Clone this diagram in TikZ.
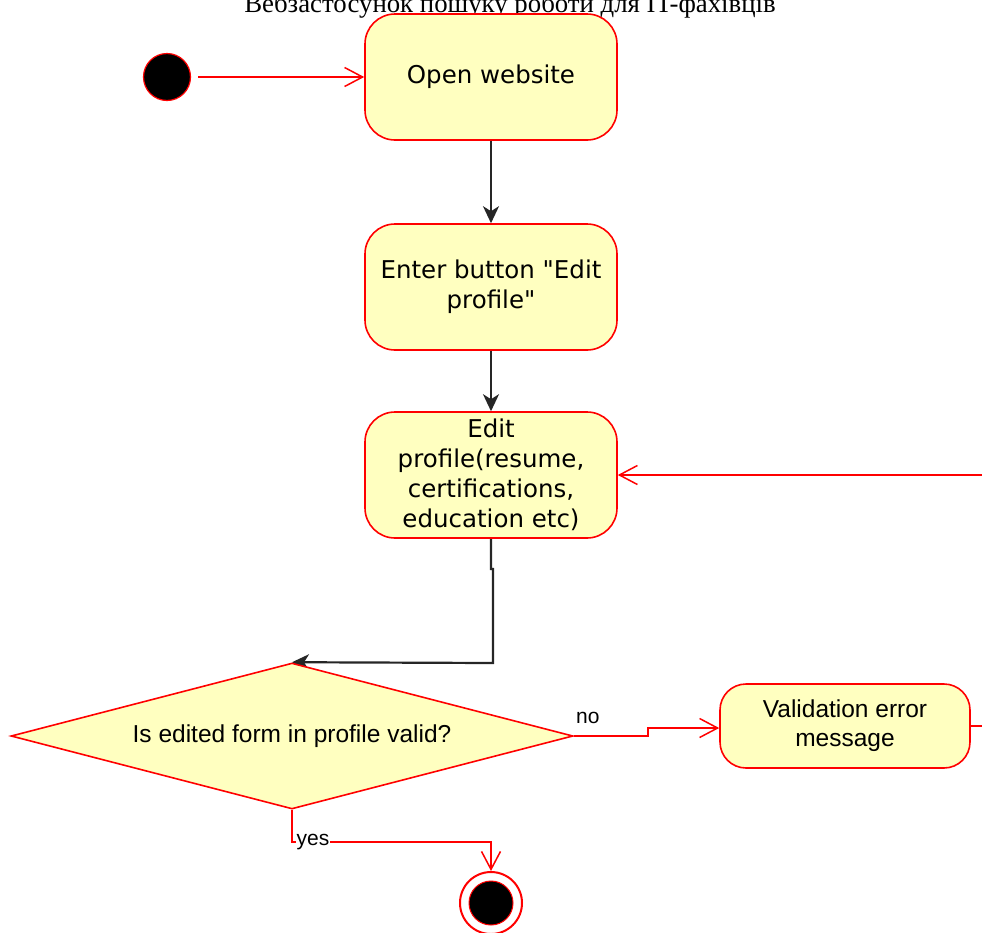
\documentclass[tikz,border=0pt]{standalone}
\usepackage{fontspec}
\setmainfont{DejaVu Sans}[Ligatures=TeXOff]
\newfontfamily\arialf{Liberation Sans}[Ligatures=TeXOff]
\newfontfamily\timesf{Liberation Serif}
\usetikzlibrary{arrows.meta,shapes.geometric,backgrounds}
\definecolor{actfill}{HTML}{FFFFC0}
\definecolor{actline}{HTML}{FF0000}
\begin{document}
\begin{tikzpicture}[x=1pt,y=-1pt,
  action/.style={draw=actline, fill=actfill, line width=1.6pt,
    rounded corners=30pt, minimum width=252pt, minimum height=126pt,
    inner sep=0pt, align=center, font=\fontsize{24.5}{30}\selectfont},
  decision/.style={diamond, aspect=3.85, draw=actline, fill=actfill,
    line width=1.6pt, minimum width=562pt, minimum height=146pt,
    inner sep=0pt, font=\arialf\fontsize{24.5}{30}\selectfont},
  lbl/.style={inner sep=0pt, font=\arialf\fontsize{21}{24}\selectfont},
  redflow/.style={draw=actline, line width=1.5pt,
    -{Straight Barb[length=18pt,width=19pt,line width=1.5pt]}},
  blackflow/.style={draw=black!85, line width=2.2pt,
    -{Stealth[length=17pt,width=16pt,inset=5pt]}}
]
\useasboundingbox (0,0) rectangle (982,932);

% title
\node[font=\timesf\fontsize{26.8}{30}\selectfont, anchor=base, inner sep=0pt]
  (title) at (510,12.5) {Вебзастосунок пошуку роботи для IT-фахівців};

% activities
\node[circle, fill=black, draw=actline, line width=1.2pt, minimum size=47pt,
  inner sep=0pt] (start) at (167,77) {};
\node[action] (open) at (491,77) {Open website};
\node[action] (enter) at (491,287) {Enter button "Edit\\profile"};
\node[action] (edit) at (491,475) {Edit\\profile(resume,\\certifications,\\education etc)};
\node[decision] (check) at (292,736) {Is edited form in profile valid?};
\node[action, minimum width=250pt, minimum height=84pt, rounded corners=26pt,
  font=\arialf\fontsize{24.5}{29}\selectfont] (valerr) at (845,726)
  {Validation error\\message};
\node[circle, draw=actline, fill=white, line width=2pt, minimum size=62pt,
  inner sep=0pt] (stop) at (491,903) {};
\node[circle, fill=black, draw=actline, line width=1pt, minimum size=44pt,
  inner sep=0pt] (stopdot) at (stop.center) {};

% flows
\draw[redflow] ([xshift=7pt]start.east) -- (open.west);
\draw[blackflow] (open.south) -- (enter.north);
\draw[blackflow] (enter.south) -- (edit.north);
\begin{pgfonlayer}{background}
\draw[blackflow] (edit.south) -- (491,569) -- (493,569) -- (493,663) -- (check.north);
\end{pgfonlayer}
\draw[redflow] (check.east) -- (648,736) -- (648,728) -- ([yshift=-2pt]valerr.west);
\node[lbl, anchor=base west] (nolbl) at (576,723) {no};
\draw[redflow] (valerr.east) -- (1000,726) -- (1000,475) -- (edit.east);
\draw[redflow] (check.south) -- (292,842) -- (491,842) -- (stop.north);
\node[lbl, fill=white, anchor=base west, inner sep=0.5pt] (yeslbl) at (296,845) {yes};
\end{tikzpicture}
\end{document}
